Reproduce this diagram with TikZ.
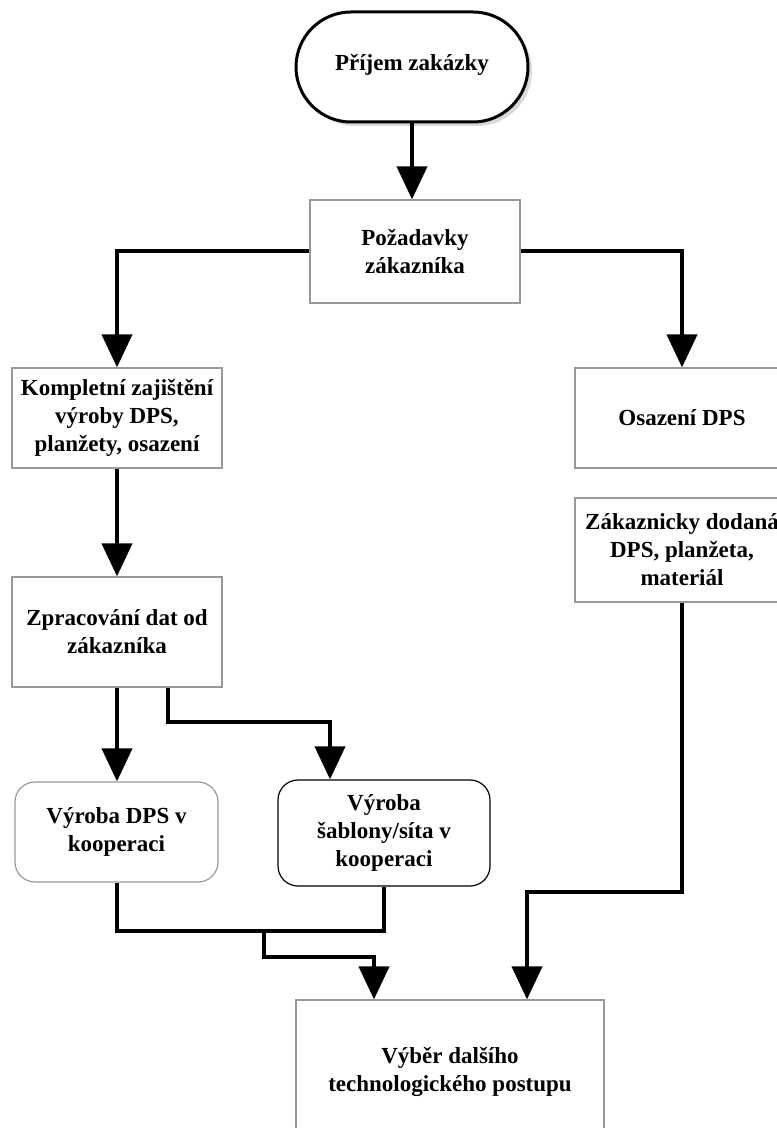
\documentclass[tikz,border=0pt]{standalone}
\usepackage{fontspec}
\setmainfont{Liberation Serif}
\usetikzlibrary{shapes.misc, arrows.meta, shadows}

\begin{document}
\begin{tikzpicture}[x=0.5pt,y=-0.5pt,
		every node/.style={font=\fontsize{11.5}{14}\selectfont\bfseries, align=center, inner sep=2pt},
		terminal/.style={rounded rectangle, draw=black, line width=1.5pt, fill=white, minimum width=120pt, minimum height=55pt,
			drop shadow={shadow xshift=2pt, shadow yshift=-2pt, opacity=0.3}},
		process/.style={rectangle, draw=gray!80, line width=0.6pt, fill=white},
		coop/.style={rectangle, rounded corners=10pt, draw=gray!80, line width=0.6pt, fill=white},
		flow/.style={line width=2pt, -{Triangle[length=16.5pt,width=15pt]}},
		link/.style={line width=2pt}]
		\useasboundingbox (0,0) rectangle (776,1128);

		\node [terminal] (start) at (412,67) {\raisebox{5pt}{Příjem zakázky}};
		\node [process, minimum width=105pt, minimum height=51.5pt] (req) at (415,251.5) {Požadavky\\ zákazníka};
		\node [process, minimum width=105pt, minimum height=50pt] (full) at (117,418) {Kompletní zajištění\\ výroby DPS,\\ planžety, osazení};
		\node [process, minimum width=107pt, minimum height=50pt] (assy) at (682,418) {Osazení DPS};
		\node [process, minimum width=107pt, minimum height=52pt] (supp) at (682,550) {Zákaznicky dodaná\\ DPS, planžeta,\\ materiál};
		\node [process, minimum width=105pt, minimum height=55pt] (data) at (117,632) {Zpracování dat od\\ zákazníka};
		\node [coop, minimum width=101.5pt, minimum height=50pt] (pcb) at (116.5,832) {Výroba DPS v\\ kooperaci};
		\node [coop, draw=black, minimum width=106pt, minimum height=53pt] (stencil) at (384,833) {Výroba\\ šablony/síta v\\ kooperaci};
		\node [process, minimum width=154pt, minimum height=72pt] (sel) at (450,1072) {Výběr dalšího\\ technologického postupu};

		\coordinate (s1) at (168,722);
		\coordinate (s2) at (330,722);
		\coordinate (m1) at (0,931);
		\coordinate (m2) at (264,931);
		\coordinate (m3) at (374,957);
		\coordinate (k) at (527,892);

		\draw [flow] (start.south -| 412,0) -- (412,0 |- req.north);
		\draw [flow] (req.west) -| (full.north);
		\draw [flow] (req.east) -| (assy.north);
		\draw [flow] (full.south) -- (data.north);
		\draw [flow] (data.south) -- (pcb.north -| data.south);
		\draw [flow] (data.south -| s1) -- (s1) -- (s2) -- (s2 |- stencil.north);
		\draw [link] (pcb.south -| data.south) -- (data.south |- m1) -- (stencil.south |- m1) -- (stencil.south);
		\draw [flow] (m2) |- (m3) -- (m3 |- sel.north);
		\draw [flow] (supp.south) |- (k) -- (k |- sel.north);
	\end{tikzpicture}
\end{document}
